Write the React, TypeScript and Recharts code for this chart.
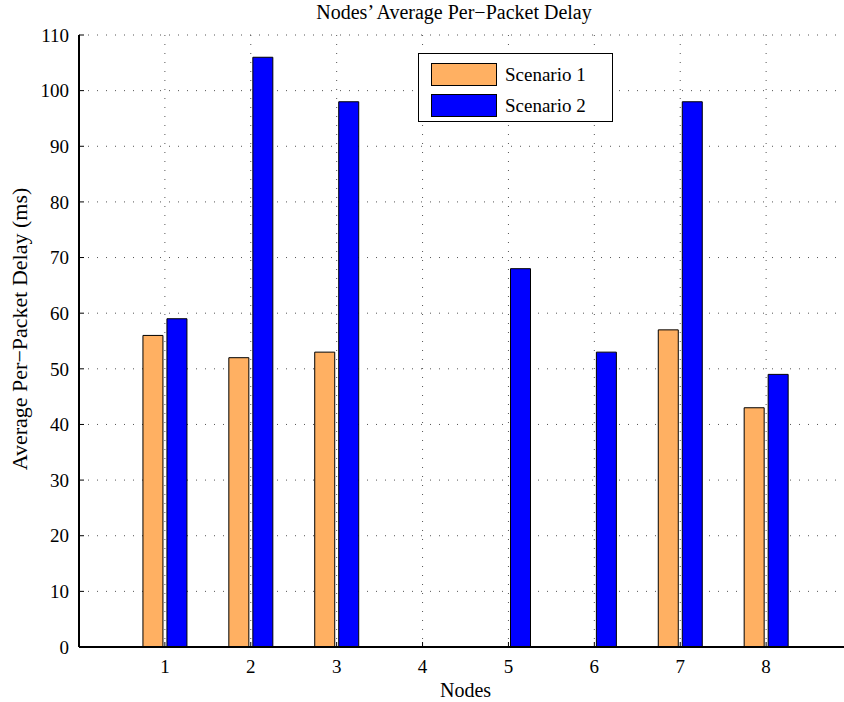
import { BarChart, Bar, XAxis, YAxis, CartesianGrid, Legend, Label } from 'recharts';

const nodes = [1, 2, 3, 4, 5, 6, 7, 8];
const scenario1 = [56, 52, 53, 0, 0, 0, 57, 43];
const scenario2 = [59, 106, 98, 0, 68, 53, 98, 49];
const yTicks = [0, 10, 20, 30, 40, 50, 60, 70, 80, 90, 100, 110];

const data = nodes.map((node, i) => ({ node, s1: scenario1[i], s2: scenario2[i] }));

const font = "'Liberation Serif', 'Times New Roman', serif";
const tickStyle = { fontSize: 19, fill: '#000', fontFamily: font };

function LegendBox(props: any) {
  const items = props.payload || [];
  return (
    <div
      style={{
        border: '1.5px solid #000',
        background: '#fff',
        width: 195,
        height: 69,
        boxSizing: 'border-box',
        padding: '5px 0 0 12px',
        fontFamily: font,
      }}
    >
      {items.map((p: any) => (
        <div key={p.value} style={{ display: 'flex', alignItems: 'center', height: 31 }}>
          <span
            style={{
              display: 'inline-block',
              width: 66,
              height: 23,
              background: p.color,
              border: '1px solid #000',
              boxSizing: 'border-box',
            }}
          />
          <span style={{ marginLeft: 8, fontSize: 19, color: '#000' }}>{p.value}</span>
        </div>
      ))}
    </div>
  );
}

export default function App() {
  return (
    <div
      style={{
        position: 'absolute',
        left: 0,
        top: 0,
        width: 844,
        height: 702,
        overflow: 'hidden',
        background: '#fff',
      }}
    >
      <div
        style={{
          position: 'absolute',
          left: 79,
          width: 750,
          top: 1,
          textAlign: 'center',
          fontFamily: font,
          fontSize: 20,
          lineHeight: '23px',
          color: '#000',
        }}
      >
        Nodes’ Average Per−Packet Delay
      </div>
      <BarChart
        width={860}
        height={702}
        data={data}
        margin={{ top: 35, right: 8, bottom: 0, left: 0 }}
        barSize={20}
        barGap={4}
        style={{ position: 'absolute', left: 0, top: 0 }}
      >
        <CartesianGrid stroke="#555" strokeDasharray="1 8" />
        <XAxis
          xAxisId="top"
          orientation="top"
          type="number"
          dataKey="node"
          domain={[0, 9]}
          ticks={nodes}
          height={0}
          tick={false}
          tickSize={-5}
          axisLine={{ stroke: '#000', strokeWidth: 1 }}
          tickLine={{ stroke: '#000' }}
        />
        <XAxis
          type="number"
          dataKey="node"
          domain={[0, 9]}
          ticks={nodes}
          height={55}
          tickSize={-5}
          tickMargin={18}
          tick={tickStyle}
          axisLine={{ stroke: '#000', strokeWidth: 2 }}
          tickLine={{ stroke: '#000' }}
        >
          <Label value="Nodes" position="insideBottom" offset={5} style={{ fontSize: 20, fill: '#000', fontFamily: font }} />
        </XAxis>
        <YAxis
          type="number"
          domain={[0, 110]}
          ticks={yTicks}
          width={79}
          tickSize={-5}
          tickMargin={15}
          tick={tickStyle}
          axisLine={{ stroke: '#000', strokeWidth: 2 }}
          tickLine={{ stroke: '#000' }}
        >
          <Label
            content={(p: any) => {
              const vb = p.viewBox || { x: 0, y: 35, width: 79, height: 612 };
              const cx = vb.x + 19;
              const cy = vb.y + vb.height / 2 - 12;
              return (
                <text
                  x={cx}
                  y={cy}
                  transform={`rotate(-90 ${cx} ${cy})`}
                  textAnchor="middle"
                  dominantBaseline="central"
                  style={{ fontSize: 22, fill: '#000', fontFamily: font }}
                >
                  Average Per−Packet Delay (ms)
                </text>
              );
            }}
          />
        </YAxis>
        <Legend
          layout="vertical"
          align="center"
          verticalAlign="middle"
          content={<LegendBox />}
          wrapperStyle={{ left: 418, top: 53, right: 'auto', bottom: 'auto', width: 'auto' }}
        />
        <Bar dataKey="s1" name="Scenario 1" fill="#ffb062" stroke="#000" strokeWidth={1} isAnimationActive={false} />
        <Bar dataKey="s2" name="Scenario 2" fill="#0000ff" stroke="#000" strokeWidth={1} isAnimationActive={false} />
      </BarChart>
    </div>
  );
}
